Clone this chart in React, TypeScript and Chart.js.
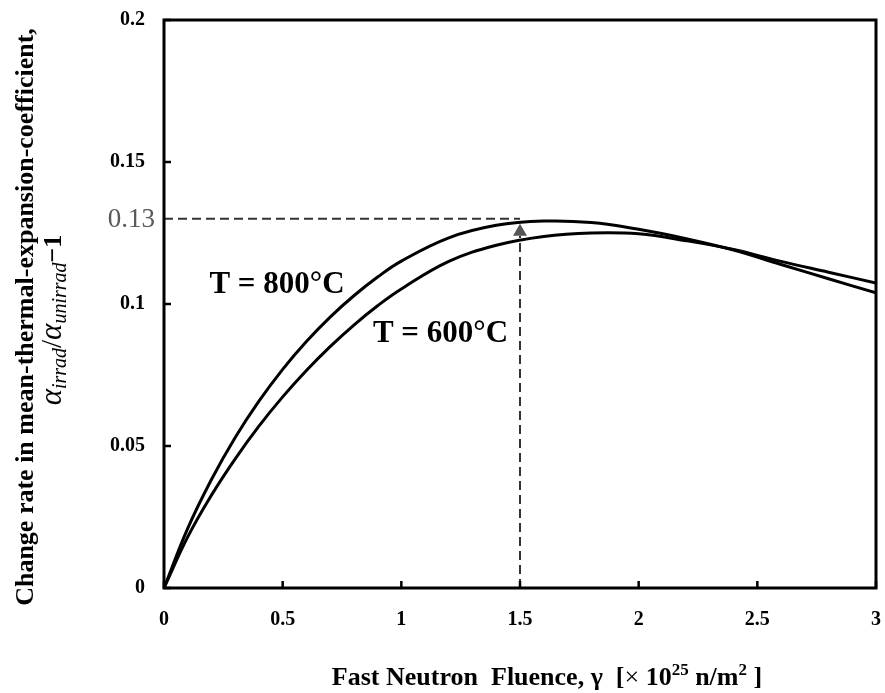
import React, { useEffect, useRef } from "react";
import { Chart, registerables } from "chart.js";

Chart.register(...registerables);

// ---- data ----
const fluence = [0, 0.1, 0.2, 0.3, 0.4, 0.5, 0.6, 0.7, 0.8, 0.9, 1.0, 1.2, 1.4, 1.6, 1.8, 2.0, 2.2, 2.4, 2.6, 2.8, 3.0];
const rate800 = [0, 0.021, 0.0382, 0.053, 0.0658, 0.077, 0.0868, 0.0954, 0.1029, 0.1095, 0.1151, 0.1233, 0.1277, 0.1292, 0.1287, 0.1263, 0.123, 0.119, 0.1139, 0.1089, 0.1039];
const rate600 = [0, 0.018, 0.0327, 0.0455, 0.057, 0.0673, 0.0766, 0.085, 0.0926, 0.0994, 0.1053, 0.115, 0.1207, 0.1238, 0.125, 0.1247, 0.1223, 0.1192, 0.115, 0.1112, 0.1074];
const xTicks = [0, 0.5, 1, 1.5, 2, 2.5, 3];
const yTicks = [0, 0.05, 0.1, 0.15, 0.2];
const yTickLabels = ["0", "0.05", "0.1", "0.15", "0.2"];
const markX = 1.5;
const markY = 0.13;
const markLabel = "0.13";
const label800 = "T = 800°C";
const label600 = "T = 600°C";
const label800Pos = { x: 0.476, y: 0.1067 };
const label600Pos = { x: 1.165, y: 0.0894 };

const SERIF = "'Liberation Serif', 'Times New Roman', serif";

type Seg = { t: string; f: string; dy?: number };

function drawRich(ctx: CanvasRenderingContext2D, segs: Seg[], cx: number, baseY: number) {
  const widths = segs.map((s) => {
    ctx.font = s.f;
    return ctx.measureText(s.t).width;
  });
  const total = widths.reduce((a, b) => a + b, 0);
  let cur = cx - total / 2;
  ctx.textAlign = "left";
  ctx.textBaseline = "alphabetic";
  segs.forEach((s, i) => {
    ctx.font = s.f;
    ctx.fillText(s.t, cur, baseY + (s.dy || 0));
    cur += widths[i];
  });
}

const overlay = {
  id: "overlay",
  afterDatasetsDraw(chart: any) {
    const { ctx, chartArea: a, scales } = chart;
    const x = scales.x;
    const y = scales.y;
    ctx.save();

    // dashed guides
    const px = x.getPixelForValue(markX);
    const py = y.getPixelForValue(markY);
    const tipY = py + 5;
    const baseY = py + 17;
    ctx.strokeStyle = "#333";
    ctx.lineWidth = 2;
    ctx.setLineDash([9, 5]);
    ctx.beginPath();
    ctx.moveTo(a.left, py);
    ctx.lineTo(px, py);
    ctx.stroke();
    ctx.beginPath();
    ctx.moveTo(px, a.bottom);
    ctx.lineTo(px, baseY);
    ctx.stroke();
    ctx.setLineDash([]);

    // arrow head
    ctx.fillStyle = "#555";
    ctx.beginPath();
    ctx.moveTo(px, tipY);
    ctx.lineTo(px - 7, baseY);
    ctx.lineTo(px + 7, baseY);
    ctx.closePath();
    ctx.fill();

    // frame
    ctx.strokeStyle = "#000";
    ctx.lineWidth = 3;
    ctx.strokeRect(a.left, a.top, a.right - a.left, a.bottom - a.top);

    // inward ticks
    ctx.lineWidth = 2.5;
    ctx.beginPath();
    yTicks.forEach((v) => {
      const yy = y.getPixelForValue(v);
      ctx.moveTo(a.left, yy);
      ctx.lineTo(a.left + 7, yy);
    });
    xTicks.forEach((v) => {
      const xx = x.getPixelForValue(v);
      ctx.moveTo(xx, a.bottom);
      ctx.lineTo(xx, a.bottom - 7);
    });
    ctx.stroke();

    // 0.13 label
    ctx.fillStyle = "#5a5a5a";
    ctx.font = `27px ${SERIF}`;
    ctx.textAlign = "right";
    ctx.textBaseline = "middle";
    ctx.fillText(markLabel, a.left - 9, py + 1);

    // curve labels
    ctx.fillStyle = "#000";
    ctx.font = `bold 31px ${SERIF}`;
    ctx.textAlign = "center";
    ctx.textBaseline = "middle";
    ctx.fillText(label800, x.getPixelForValue(label800Pos.x), y.getPixelForValue(label800Pos.y));
    ctx.fillText(label600, x.getPixelForValue(label600Pos.x), y.getPixelForValue(label600Pos.y));

    // x title
    const big = `bold 26px ${SERIF}`;
    const sup = `bold 17px ${SERIF}`;
    drawRich(
      ctx,
      [
        { t: "Fast Neutron  Fluence, γ  [", f: big },
        { t: "×", f: `26px ${SERIF}` },
        { t: " 10", f: big },
        { t: "25", f: sup, dy: -10 },
        { t: " n/m", f: big },
        { t: "2", f: sup, dy: -10 },
        { t: " ]", f: big },
      ],
      547,
      685
    );

    // y title line 1
    ctx.save();
    ctx.translate(33, 317);
    ctx.rotate(-Math.PI / 2);
    ctx.font = `bold 26px ${SERIF}`;
    ctx.textAlign = "center";
    ctx.textBaseline = "alphabetic";
    ctx.fillText("Change rate in mean-thermal-expansion-coefficient,", 0, 0);
    ctx.restore();

    // y title line 2
    ctx.save();
    ctx.translate(61, 320);
    ctx.rotate(-Math.PI / 2);
    drawRich(
      ctx,
      [
        { t: "α", f: `italic 31px ${SERIF}` },
        { t: "irrad", f: `italic 20px ${SERIF}`, dy: 5 },
        { t: "/", f: `29px ${SERIF}` },
        { t: "α", f: `italic 31px ${SERIF}` },
        { t: "unirrad", f: `italic 20px ${SERIF}`, dy: 5 },
        { t: "−1", f: `bold 26px ${SERIF}` },
      ],
      0,
      0
    );
    ctx.restore();

    ctx.restore();
  },
};

export default function App() {
  const ref = useRef<HTMLCanvasElement | null>(null);
  useEffect(() => {
    if (!ref.current) return;
    Chart.defaults.color = "#000";
    const chart = new Chart(ref.current, {
      type: "line",
      data: {
        datasets: [
          {
            label: label800,
            data: fluence.map((f, i) => ({ x: f, y: rate800[i] })),
            borderColor: "#000",
            borderWidth: 3,
            pointRadius: 0,
            tension: 0.4,
            fill: false,
          },
          {
            label: label600,
            data: fluence.map((f, i) => ({ x: f, y: rate600[i] })),
            borderColor: "#000",
            borderWidth: 3,
            pointRadius: 0,
            tension: 0.4,
            fill: false,
          },
        ],
      },
      options: {
        responsive: false,
        animation: false,
        layout: { padding: { top: 20, right: 9, left: 0, bottom: 0 } },
        plugins: { legend: { display: false }, tooltip: { enabled: false }, title: { display: false } },
        scales: {
          x: {
            type: "linear",
            min: 0,
            max: 3,
            grid: { display: false, drawTicks: false },
            border: { display: false },
            afterBuildTicks: (s: any) => {
              s.ticks = xTicks.map((v) => ({ value: v }));
            },
            afterFit: (s: any) => {
              s.height = 105;
              s.paddingLeft = 0;
              s.paddingRight = 0;
              s.paddingTop = 0;
              s.paddingBottom = 0;
            },
            ticks: {
              color: "#000",
              padding: 20,
              maxRotation: 0,
              font: { family: SERIF, size: 20, weight: "bold" },
              callback: (v: any) => String(v),
            },
          },
          y: {
            type: "linear",
            min: 0,
            max: 0.2,
            grid: { display: false, drawTicks: false },
            border: { display: false },
            afterBuildTicks: (s: any) => {
              s.ticks = yTicks.map((v) => ({ value: v }));
            },
            afterFit: (s: any) => {
              s.width = 164;
              s.paddingLeft = 0;
              s.paddingRight = 0;
              s.paddingTop = 0;
              s.paddingBottom = 0;
            },
            ticks: {
              color: "#000",
              padding: 19,
              font: { family: SERIF, size: 20, weight: "bold" },
              callback: (v: any) => {
                const i = yTicks.indexOf(Number(v));
                return i >= 0 ? yTickLabels[i] : "";
              },
            },
          },
        },
      },
      plugins: [overlay],
    } as any);
    return () => chart.destroy();
  }, []);
  return (
    <canvas
      ref={ref}
      width={885}
      height={693}
      style={{ position: "fixed", left: 0, top: 0, width: 885, height: 693, display: "block", background: "#fff" }}
    />
  );
}
